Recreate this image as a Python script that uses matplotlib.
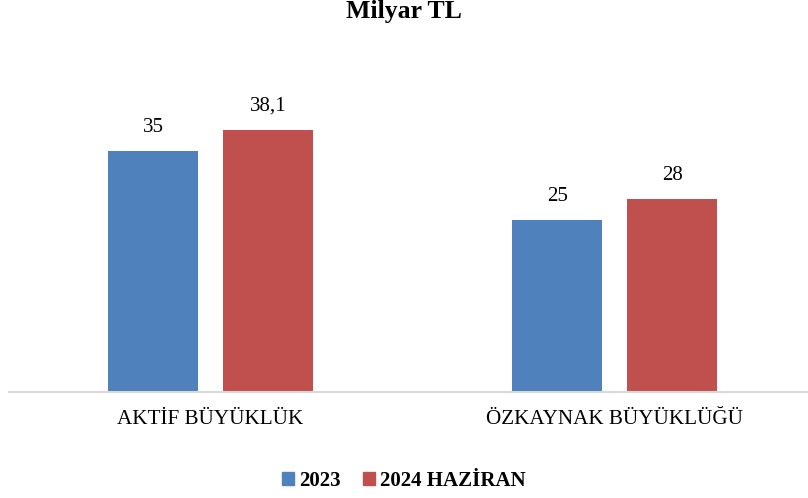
import numpy as np
import matplotlib
matplotlib.use("Agg")
import matplotlib.pyplot as plt
from matplotlib.patches import Patch

categories = ["AKTİF BÜYÜKLÜK", "ÖZKAYNAK BÜYÜKLÜĞÜ"]
series_names = ["2023", "2024 HAZİRAN"]
values_2023 = [35, 25]
values_2024 = [38.1, 28]
labels_2023 = ["35", "25"]
labels_2024 = ["38,1", "28"]

blue = "#4f81bd"
red = "#c0504d"

plt.rcParams["font.family"] = ["Liberation Serif", "DejaVu Serif"]

fig = plt.figure(figsize=(8.08, 4.98), dpi=100)
ax = fig.add_axes([9 / 808, (498 - 392) / 498, 798 / 808, 344 / 498])

x = np.arange(len(categories))
w = 0.223
off = 0.142
b1 = ax.bar(x - off, values_2023, w, color=blue)
b2 = ax.bar(x + off, values_2024, w, color=red)

for bars, labs in ((b1, labels_2023), (b2, labels_2024)):
    for b, lab in zip(bars, labs):
        ax.annotate(lab, (b.get_x() + b.get_width() / 2, b.get_height()),
                    xytext=(0, 10), textcoords="offset points",
                    ha="center", va="bottom", fontsize=15)

ax.set_xlim(-0.499, 1.476)
ax.set_ylim(0, 50)
ax.set_yticks([])
ax.set_xticks(x)
ax.set_xticklabels(categories, fontsize=15.2)
ax.tick_params(axis="x", length=0, pad=13)
for s in ["top", "right", "left"]:
    ax.spines[s].set_visible(False)
ax.spines["bottom"].set_color("#d9d9d9")
ax.spines["bottom"].set_linewidth(1.5)

# title: caps top ~3px, baseline ~18px from top
fig.text(0.5, 1 - 18 / 498, "Milyar TL", ha="center", va="baseline",
         fontsize=18.5, fontweight="bold")

handles = [Patch(color=blue), Patch(color=red)]
fig.legend(handles, series_names, loc="center", bbox_to_anchor=(0.5, 1 - 481 / 498),
           ncol=2, frameon=False, prop={"size": 15, "weight": "bold"},
           handlelength=0.55, handleheight=0.55, handletextpad=0.25, columnspacing=1.1)

fig.savefig("out.png", dpi=100)
